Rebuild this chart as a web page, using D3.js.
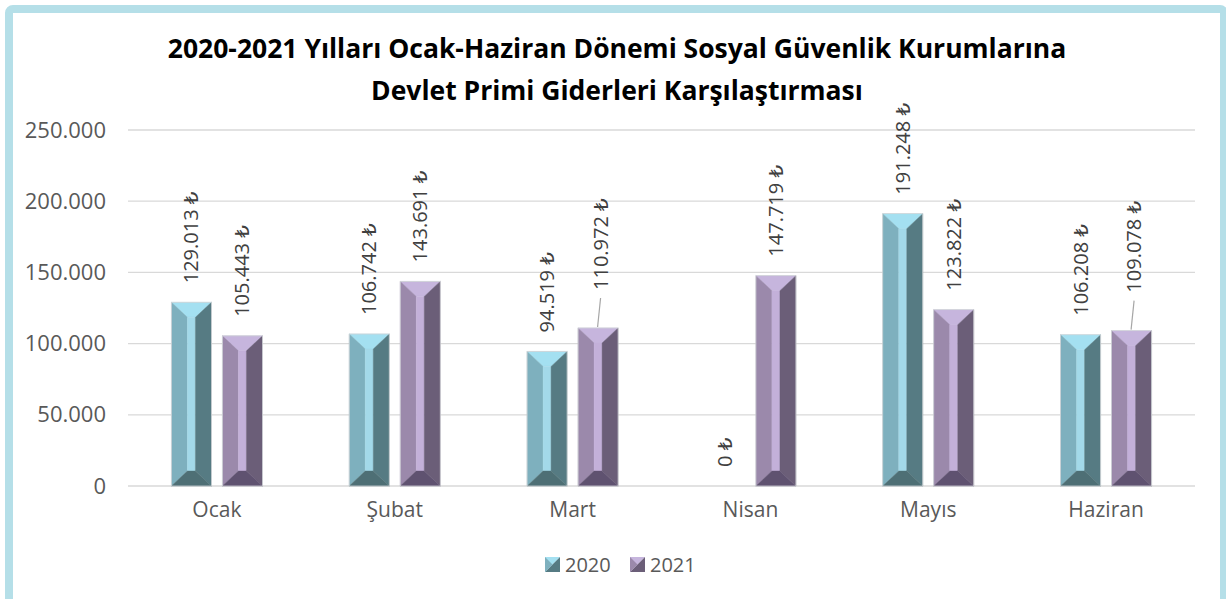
<!DOCTYPE html>
<html>
<head>
<meta charset="utf-8">
<script src="https://cdn.jsdelivr.net/npm/d3@7"></script>
<style>
  body { margin: 0; background: #fff; }
  text { font-family: "Open Sans", "DejaVu Sans", sans-serif; }
</style>
</head>
<body>
<div id="chart"></div>
<script>
// data
var months = ["Ocak", "Şubat", "Mart", "Nisan", "Mayıs", "Haziran"];
var years = ["2020", "2021"];
var values2020 = [129013, 106742, 94519, 0, 191248, 106208];
var values2021 = [105443, 143691, 110972, 147719, 123822, 109078];
var yTicks = [0, 50000, 100000, 150000, 200000, 250000];
var titleLines = ["2020-2021 Yılları Ocak-Haziran Dönemi Sosyal Güvenlik Kurumlarına",
                  "Devlet Primi Giderleri Karşılaştırması"];
// labels that Excel pushed up and tied with a leader line
var leaderLabels = [["Mart", "2021"], ["Haziran", "2021"]];

var width = 1226, height = 599;
var margin = { top: 130, right: 31, bottom: 113, left: 128 };
var innerWidth = width - margin.left - margin.right;
var innerHeight = height - margin.top - margin.bottom;

// bevel colours: top, left, centre, right, bottom
var faces = {
    "2020": ["#a4e0f1", "#7eb0be", "#a3d9e9", "#567b83", "#4e6f75"],
    "2021": ["#c6b5dd", "#9b89ab", "#c3b0d9", "#6b5e78", "#5f5270"]
};

var trLocale = d3.formatLocale({ decimal: ",", thousands: ".", grouping: [3], currency: ["", " ₺"] });
var fmt = trLocale.format(",d");

var data = months.map(function (m, i) {
    return { month: m, "2020": values2020[i], "2021": values2021[i] };
});

var svg = d3.select("#chart").append("svg")
    .attr("width", width)
    .attr("height", height);

// outer frame
svg.append("rect")
    .attr("x", 9).attr("y", 9)
    .attr("width", 1215).attr("height", 640)
    .attr("rx", 4)
    .attr("fill", "#fff")
    .attr("stroke", "#b5dfe8")
    .attr("stroke-width", 8);

var g = svg.append("g")
    .attr("transform", "translate(" + margin.left + "," + margin.top + ")");

var xScale = d3.scaleBand()
    .domain(months)
    .range([0, innerWidth])
    .padding(0);

var pair = 91;
var x1Scale = d3.scaleBand()
    .domain(years)
    .range([xScale.bandwidth() / 2 - pair / 2, xScale.bandwidth() / 2 + pair / 2])
    .paddingInner(0.2157);

var yScale = d3.scaleLinear()
    .domain([0, 250000])
    .range([innerHeight, 0]);

// gridlines
g.append("g")
    .selectAll("line")
    .data(yTicks)
    .join("line")
    .attr("x1", 0).attr("x2", innerWidth)
    .attr("y1", d => yScale(d)).attr("y2", d => yScale(d))
    .attr("stroke", "#d9d9d9")
    .attr("stroke-width", 1.3);

// y axis labels
var yAxis = d3.axisLeft(yScale)
    .tickValues(yTicks)
    .tickSize(0)
    .tickPadding(22)
    .tickFormat(d => fmt(d));

g.append("g")
    .call(yAxis)
    .call(ax => ax.select(".domain").remove())
    .selectAll("text")
    .attr("fill", "#595959")
    .style("font-size", "22px");

// x axis labels
var xAxis = d3.axisBottom(xScale).tickSize(0).tickPadding(16);
g.append("g")
    .attr("transform", "translate(0," + innerHeight + ")")
    .call(xAxis)
    .call(ax => ax.select(".domain").remove())
    .selectAll("text")
    .attr("fill", "#595959")
    .style("font-size", "21px");

// bevelled bars
function facePolys(x0, x1, yt, yb) {
    var h = Math.min(16, (x1 - x0) / 2);
    var v = Math.min(15, (yb - yt) / 2);
    return [
        [[x0, yt], [x1, yt], [x1 - h, yt + v], [x0 + h, yt + v]],          // top
        [[x0, yt], [x0 + h, yt + v], [x0 + h, yb - v], [x0, yb]],          // left
        [[x0 + h, yt + v], [x1 - h, yt + v], [x1 - h, yb - v], [x0 + h, yb - v]], // centre
        [[x1, yt], [x1, yb], [x1 - h, yb - v], [x1 - h, yt + v]],          // right
        [[x0, yb], [x0 + h, yb - v], [x1 - h, yb - v], [x1, yb]]           // bottom
    ];
}

var groups = g.append("g")
    .selectAll("g")
    .data(data)
    .join("g")
    .attr("transform", d => "translate(" + xScale(d.month) + ",0)");

var bars = groups.selectAll("g.bar")
    .data(d => years.map(y => ({ month: d.month, year: y, value: d[y] })))
    .join("g")
    .attr("class", "bar");

bars.filter(d => d.value > 0)
    .each(function (d) {
        var x0 = x1Scale(d.year), x1 = x0 + x1Scale.bandwidth();
        var polys = facePolys(x0, x1, yScale(d.value), yScale(0));
        d3.select(this).selectAll("polygon")
            .data(polys)
            .join("polygon")
            .attr("points", p => p.map(q => q.join(",")).join(" "))
            .attr("fill", (p, i) => faces[d.year][i])
            .attr("stroke", (p, i) => faces[d.year][i])
            .attr("stroke-width", 0.4);
        d3.select(this).append("rect")
            .attr("x", x0).attr("y", yScale(d.value))
            .attr("width", x1 - x0).attr("height", yScale(0) - yScale(d.value))
            .attr("fill", "none")
            .attr("stroke", "#cfd3d6")
            .attr("stroke-width", 0.8);
    });

// data labels
function isLeader(d) {
    return leaderLabels.some(l => l[0] == d.month && l[1] == d.year);
}
var gap = 19, lift = 19;

bars.each(function (d) {
    var cx = x1Scale(d.year) + x1Scale.bandwidth() / 2;
    var top = yScale(d.value);
    var start = top - gap - (isLeader(d) ? lift : 0);
    var sel = d3.select(this);
    if (isLeader(d)) {
        sel.append("line")
            .attr("x1", cx - 0.5).attr("y1", top - 1)
            .attr("x2", cx + 2.5).attr("y2", start + 8)
            .attr("stroke", "#a6a6a6")
            .attr("stroke-width", 1.2);
        cx += 2.5;
    }
    sel.append("text")
        .attr("transform", "translate(" + cx + "," + start + ") rotate(-90)")
        .attr("dy", "0.35em")
        .attr("fill", "#404040")
        .style("font-size", "20px")
        .text(fmt(d.value) + " ₺");
});

// title
svg.append("g")
    .selectAll("text")
    .data(titleLines)
    .join("text")
    .attr("x", 617)
    .attr("y", (d, i) => 58 + i * 42)
    .attr("text-anchor", "middle")
    .attr("fill", "#000")
    .style("font-size", "26.5px")
    .style("font-weight", "bold")
    .text(d => d);

// legend
var legend = svg.append("g")
    .attr("transform", "translate(545,557)")
    .selectAll("g")
    .data(years)
    .join("g")
    .attr("transform", (d, i) => "translate(" + (i * 85) + ",0)");

legend.append("polygon")
    .attr("points", "0,0 15,0 0,15")
    .attr("fill", d => faces[d][0]);
legend.append("polygon")
    .attr("points", "15,0 15,15 0,15")
    .attr("fill", d => faces[d][3]);
legend.append("polygon")
    .attr("points", "0,0 7.5,7.5 0,15")
    .attr("fill", d => faces[d][1]);
legend.append("text")
    .attr("x", 20)
    .attr("y", 15)
    .attr("fill", "#595959")
    .style("font-size", "20px")
    .text(d => d);
</script>
</body>
</html>
